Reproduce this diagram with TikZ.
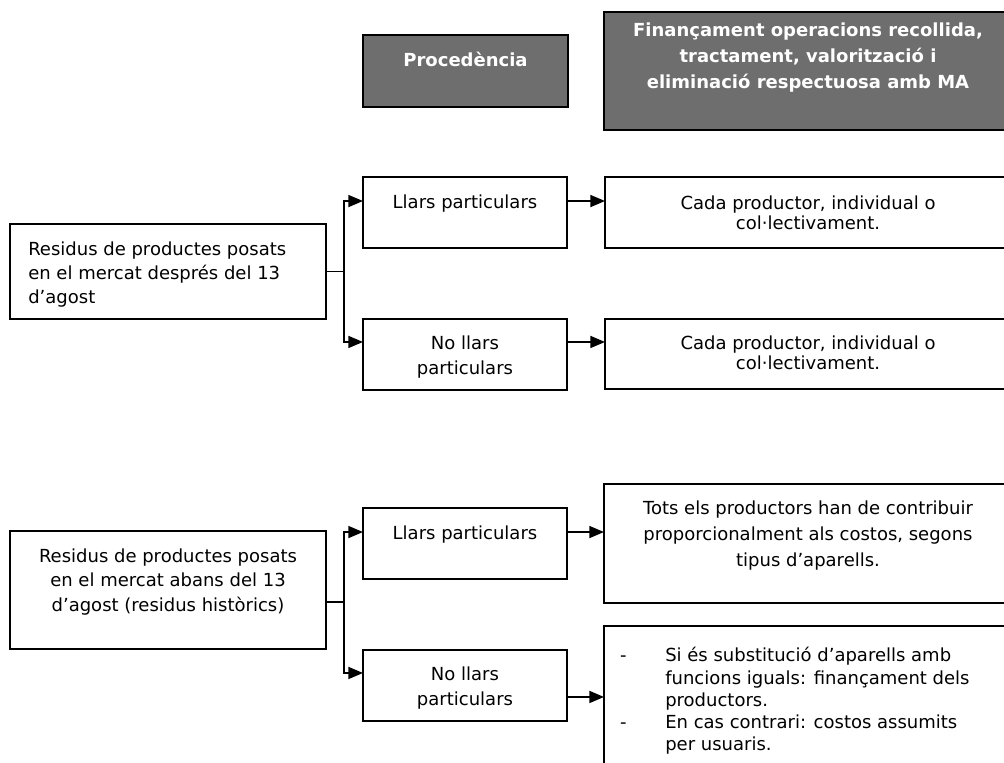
\documentclass[tikz,border=0pt]{standalone}
\usepackage{fontspec}
\setmainfont{DejaVu Sans}
\usetikzlibrary{arrows.meta}
\definecolor{hdr}{RGB}{110,110,110}
\begin{document}
\begin{tikzpicture}[x=0.75pt,y=-0.75pt,
  sz/.style 2 args={minimum width={#1*0.75pt},minimum height={#2*0.75pt}},
  box/.style={draw=black,line width=1.4pt,fill=white,anchor=north west,inner sep=0pt,outer sep=0pt},
  hbox/.style={box,fill=hdr},
  txt/.style={inner sep=0pt,font=\fontsize{13.5}{18}\selectfont,align=center},
  htxt/.style={inner sep=0pt,align=center,text=white,font=\fontsize{13.5}{19.5}\selectfont\bfseries},
  conn/.style={line width=1.3pt},
  arr/.style={conn,-{Triangle[length=11pt,width=9pt]}}]
\useasboundingbox (0,0) rectangle (1004,763);
\begin{scope}
\clip (0,0) rectangle (1004,763);
% boxes
\node[hbox,sz={205}{72}] (proc) at (363,35) {};
\node[hbox,sz={409}{118}] (fin) at (604,12) {};
\node[box,sz={316}{95}] (res1) at (10,224) {};
\node[box,sz={316}{118}] (res2) at (10,531) {};
\node[box,sz={204}{71}] (ll1) at (363,177) {};
\node[box,sz={204}{71}] (nl1) at (363,319) {};
\node[box,sz={204}{71}] (ll2) at (363,508) {};
\node[box,sz={204}{71}] (nl2) at (363,650) {};
\node[box,sz={408}{71}] (c1) at (605,177) {};
\node[box,sz={408}{70}] (c2) at (605,319) {};
\node[box,sz={409}{119}] (tots) at (604,484) {};
\node[box,sz={409}{180}] (si) at (604,626) {};
% texts
\node[htxt] (procT) at (465.5,59) {Procedència};
\node[htxt] (finT) at (808,58) {Finançament operacions recollida,\\tractament, valorització i\\eliminació respectuosa amb MA};
\node[txt,anchor=west,align=left] (res1T) at (28,274.5) {Residus de productes posats\\en el mercat després del 13\\d’agost};
\node[txt,font=\fontsize{13.5}{18.5}\selectfont] (res2T) at (168,582) {Residus de productes posats\\en el mercat abans del 13\\d’agost (residus històrics)};
\node[txt] (ll1T) at (465,204) {Llars particulars};
\node[txt,font=\fontsize{13.5}{18.75}\selectfont] (nl1T) at (465,357.5) {No llars\\particulars};
\node[txt] (ll2T) at (465,535) {Llars particulars};
\node[txt,font=\fontsize{13.5}{18.75}\selectfont] (nl2T) at (465,688.5) {No llars\\particulars};
\node[txt,font=\fontsize{13.5}{15}\selectfont] (c1T) at (808,213) {Cada productor, individual o\\col·lectivament.};
\node[txt,font=\fontsize{13.5}{15}\selectfont] (c2T) at (808,353) {Cada productor, individual o\\col·lectivament.};
\node[txt,font=\fontsize{13.5}{19.5}\selectfont] (totsT) at (808,536) {Tots els productors han de contribuir\\proporcionalment als costos, segons\\tipus d’aparells.};
\node[txt,anchor=west,align=left,font=\fontsize{13.5}{16.7}\selectfont] (siT) at (665,701) {\llap{-\hspace{29pt}}Si és substitució d’aparells amb\\funcions iguals: finançament dels\\productors.\\\llap{-\hspace{29pt}}En cas contrari: costos assumits\\per usuaris.};
% connectors upper
\draw[conn] (res1.east) -- ++(18,0) coordinate (j1);
\draw[arr] (j1) |- ([yshift=8.6pt]ll1.west);
\draw[arr] (j1) |- ([yshift=9.4pt]nl1.west);
\draw[arr] ([yshift=8.6pt]ll1.east) -- ([yshift=8.6pt]ll1.east -| c1.west);
\draw[arr] ([yshift=9.4pt]nl1.east) -- ([yshift=9.4pt]nl1.east -| c2.west);
% connectors lower
\draw[conn] ([yshift=-9pt]res2.east) -- ++(18,0) coordinate (j2);
\draw[arr] (j2) |- ([yshift=8.6pt]ll2.west);
\draw[arr] (j2) |- ([yshift=9.4pt]nl2.west);
\draw[arr] ([yshift=8.6pt]ll2.east) -- ([yshift=8.6pt]ll2.east -| tots.west);
\draw[arr] ([yshift=-8.6pt]nl2.east) -- ([yshift=-8.6pt]nl2.east -| si.west);
\end{scope}
\end{tikzpicture}
\end{document}
